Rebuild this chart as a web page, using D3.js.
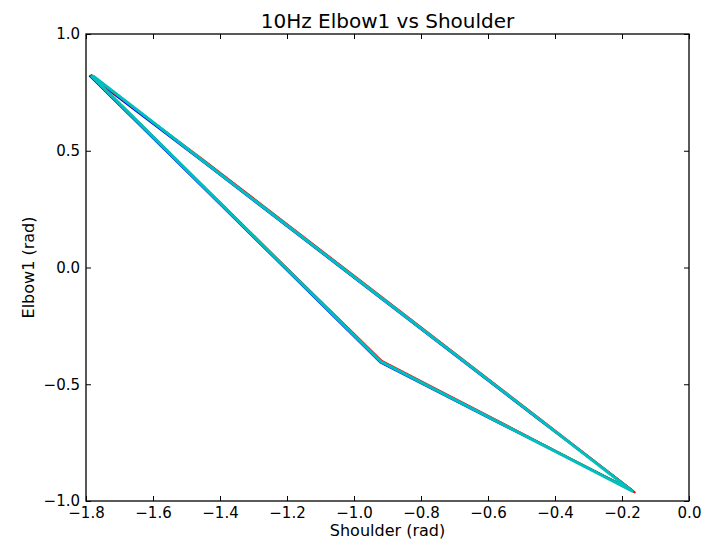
<!DOCTYPE html>
<html>
<head>
<meta charset="utf-8">
<script src="https://cdn.jsdelivr.net/npm/d3@7"></script>
<style>
  body { margin: 0; background: #fff; }
  text { font-family: "DejaVu Sans", sans-serif; fill: #000; }
</style>
</head>
<body>
<div id="graph"></div>
<script>
// trials: shoulder (x) and elbow1 (y) values, one loop each
var seriesNames = ['blue', 'green', 'red', 'cyan'];
var seriesColors = ['#0000ff', '#008000', '#ff0000', '#00bfbf'];

var shoulderBlue  = [-1.790, -1.350, -0.922, -0.550, -0.172, -0.450, -0.980, -1.450, -1.790];
var elbowBlue     = [0.822, 0.200, -0.406, -0.679, -0.952, -0.650, -0.066, 0.452, 0.822];
var shoulderGreen = [-1.786, -1.350, -0.920, -0.550, -0.168, -0.450, -0.980, -1.450, -1.786];
var elbowGreen    = [0.826, 0.208, -0.402, -0.674, -0.955, -0.646, -0.061, 0.458, 0.826];
var shoulderRed   = [-1.783, -1.350, -0.917, -0.550, -0.162, -0.450, -0.980, -1.450, -1.783];
var elbowRed      = [0.818, 0.207, -0.400, -0.672, -0.963, -0.643, -0.057, 0.461, 0.818];
var shoulderCyan  = [-1.785, -1.350, -0.920, -0.550, -0.170, -0.450, -0.980, -1.450, -1.780];
var elbowCyan     = [0.822, 0.205, -0.403, -0.676, -0.957, -0.646, -0.062, 0.456, 0.822];

var xTicks = [-1.8, -1.6, -1.4, -1.2, -1.0, -0.8, -0.6, -0.4, -0.2, 0.0];
var yTicks = [-1.0, -0.5, 0.0, 0.5, 1.0];

var w = 711, h = 540;
var margin = { left: 86, right: 22, top: 34, bottom: 39 };

var svg = d3.select('#graph').append('svg')
  .attr('width', w).attr('height', h);

var xScale = d3.scaleLinear().domain([-1.8, 0.0]).range([margin.left, w - margin.right]);
var yScale = d3.scaleLinear().domain([-1.0, 1.0]).range([h - margin.bottom, margin.top]);

var series = [
  { x: shoulderBlue, y: elbowBlue },
  { x: shoulderGreen, y: elbowGreen },
  { x: shoulderRed, y: elbowRed },
  { x: shoulderCyan, y: elbowCyan }
];

var line = d3.line()
  .x(d => xScale(d[0]))
  .y(d => yScale(d[1]));

svg.append('clipPath').attr('id', 'clip').append('rect')
  .attr('x', margin.left).attr('y', margin.top)
  .attr('width', w - margin.left - margin.right)
  .attr('height', h - margin.top - margin.bottom);
var plot = svg.append('g')
  .attr('clip-path', 'url(#clip)');

series.forEach(function(s, i) {
  var pts = s.x.map((v, j) => [v, s.y[j]]);
  plot.append('path')
    .attr('d', line(pts))
    .attr('fill', 'none')
    .attr('stroke', seriesColors[i])
    .attr('stroke-width', i === 3 ? 3 : 2)
    .attr('stroke-linejoin', 'round');
});

// axes: ticks point inward, on all four sides
var fmt = d3.format('.1f');
function minus(v) { return fmt(v).replace('-', '\u2212'); }

var gBottom = svg.append('g')
  .attr('transform', `translate(0,${h - margin.bottom})`)
  .call(d3.axisBottom(xScale).tickValues(xTicks).tickSizeInner(-5).tickSizeOuter(0).tickPadding(6).tickFormat(minus));
var gTop = svg.append('g')
  .attr('transform', `translate(0,${margin.top})`)
  .call(d3.axisTop(xScale).tickValues(xTicks).tickSizeInner(-5).tickSizeOuter(0).tickFormat(''));
var gLeft = svg.append('g')
  .attr('transform', `translate(${margin.left},0)`)
  .call(d3.axisLeft(yScale).tickValues(yTicks).tickSizeInner(-5).tickSizeOuter(0).tickPadding(6).tickFormat(minus));
var gRight = svg.append('g')
  .attr('transform', `translate(${w - margin.right},0)`)
  .call(d3.axisRight(yScale).tickValues(yTicks).tickSizeInner(-5).tickSizeOuter(0).tickFormat(''));

[gBottom, gTop, gLeft, gRight].forEach(function(g) {
  g.select('.domain').remove();
  g.selectAll('line').attr('stroke', '#000').attr('stroke-width', 1);
  g.selectAll('text').style('font-size', '15px').style('font-family', '"DejaVu Sans", sans-serif').attr('fill', '#000');
});

svg.append('rect')
  .attr('x', margin.left).attr('y', margin.top)
  .attr('width', w - margin.left - margin.right)
  .attr('height', h - margin.top - margin.bottom)
  .attr('fill', 'none').attr('stroke', '#000').attr('stroke-width', 1.3);

svg.append('text')
  .attr('x', (margin.left + w - margin.right) / 2).attr('y', 28)
  .attr('text-anchor', 'middle').style('font-size', '20px')
  .text('10Hz Elbow1 vs Shoulder');

svg.append('text')
  .attr('x', (margin.left + w - margin.right) / 2).attr('y', 536)
  .attr('text-anchor', 'middle').style('font-size', '16px')
  .text('Shoulder (rad)');

svg.append('text')
  .attr('transform', `translate(34,${(margin.top + h - margin.bottom) / 2}) rotate(-90)`)
  .attr('text-anchor', 'middle').style('font-size', '16px')
  .text('Elbow1 (rad)');
</script>
</body>
</html>
